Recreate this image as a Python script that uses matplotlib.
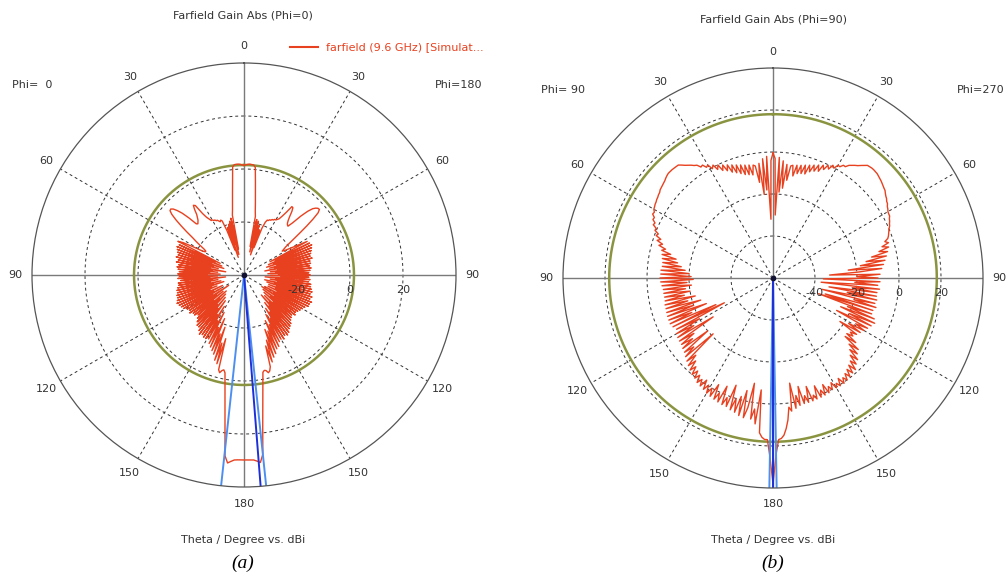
import numpy as np
import matplotlib
matplotlib.use('Agg')
import matplotlib.pyplot as plt

# theta grid (deg), 1 degree steps, 0..180
theta = np.arange(0, 181)

# (a) Phi=0 cut, gain in dBi. left half = Phi 0, right half = Phi 180
gain_a_phi0 = [
    1.4, 1.5, 1.8, 1.9, 1.9, 1.8, 1.0, -4.4, -8.8, -12.3,
    -15, -17, -30, -18, -32, -19, -28, -20, -33, -21,
    -30, -22, -18, -17.5, -18, -17.5, -17, -17, -16.5, -16.5,
    -16, -16, -15, -14, -12, -8, -7.5, -9, -11, -12,
    -13, -13.5, -14, -13.6, -10, -7, -5, -3.5, -2.8, -3,
    -4.5, -7, -10, -13, -16, -18, -20, -22, -23, -23,
    -22, -18, -14, -12, -30, -13, -28, -12.5, -31, -13,
    -27, -13.5, -32, -14, -28, -13.5, -30, -14.5, -27, -14,
    -33, -15, -28, -14.5, -30, -15, -27, -15.5, -31, -15,
    -26, -15.5, -30, -15, -27, -16, -33, -15, -28, -15,
    -30, -14.5, -27, -14, -31, -14, -28, -13.5, -32, -13.5,
    -27, -13, -29, -12.5, -26, -13, -31, -13.5, -27, -14,
    -30, -15, -26, -15.5, -33, -15, -27, -16, -30, -16,
    -25, -17, -31, -16, -27, -15, -30, -14, -25, -14,
    -29, -13, -24, -12, -28, -12.5, -22, -12, -26, -12,
    -20, -12.4, -24, -11, -18, -10, -22, -9, -16, -8,
    -19, -6, -13, -5, -15, -3, -2, -3, -3.4, -2.4,
    1.3, 5.8, 11.5, 18.8, 28.6, 31.2, 30.5, 29.9, 29.8, 29.8, 29.8]
gain_a_phi180 = [
    1.4, 1.6, 1.8, 1.9, 1.8, 1.7, 0.8, -4.6, -9, -12.5,
    -15.5, -17.5, -29, -18.5, -31, -19, -29, -20.5, -32, -22,
    -29, -21, -18.5, -17.5, -17.5, -17, -17, -16.5, -16.5, -16,
    -16, -15.5, -15, -13.5, -11.5, -8.5, -8.6, -10, -12, -13.5,
    -14.5, -15, -15.2, -13, -9, -6, -4, -3, -2.4, -2.3,
    -3.5, -6.5, -10, -13.5, -16.5, -19, -21, -22, -23, -22,
    -20, -17, -13, -29, -12.5, -27, -12, -30, -12.5, -28,
    -13, -31, -13.5, -27, -14, -30, -13.5, -28, -14.5, -32,
    -14.5, -27, -15, -30, -14.5, -28, -15, -31, -15.5, -27,
    -15, -30, -15.5, -26, -15, -32, -15.5, -28, -14.5, -30,
    -14.5, -27, -14, -32, -13.5, -28, -14, -31, -13, -27,
    -13.5, -30, -12.5, -27, -13, -30, -13, -26, -14, -31,
    -14.5, -27, -15, -32, -15.5, -26, -16, -31, -15.5, -27,
    -16.5, -30, -16, -25, -15.5, -29, -14.5, -26, -14, -30,
    -13.5, -25, -12.5, -27, -12, -23, -12.5, -25, -11.5, -21,
    -12, -23, -11.5, -19, -10, -21, -9.5, -17, -8, -18,
    -7, -14, -5.5, -12, -4, -2.5, -2, -3, -3.2, -2.6,
    1.0, 5.5, 11, 18, 28, 31.0, 30.4, 29.9, 29.8, 29.8, 29.8]

# (b) Phi=90 cut. left half = Phi 90, right half = Phi 270
gain_b_phi90 = [
    -0.5, -4, -32, -2, -18, -3, -20, -5, -14, -6,
    -5.4, -10, -5, -9.5, -4.6, -9, -4, -8, -3.4, -7,
    -2.7, -6, -1.9, -4.5, -1.1, -3.5, -0.1, -2, 0.9, -0.5,
    2.1, 1.5, 3.4, 3, 4.8, 5.4, 6.4, 7.2, 8.1, 9.2,
    10.2, 10.3, 10.4, 10.5, 10.5, 10.5, 10.2, 9.8, 9.3, 9,
    8.7, 8.5, 8.2, 7.6, 7.4, 7, 6.8, 6.4, 6.2, 5.8,
    5.5, 4.6, 4.9, 3.4, 3.6, 2.0, 2.4, 0.4, 0.6, -1.5,
    -0.8, -3.5, -2, -5, -3.5, -7, -5.4, -10, -6, -13,
    -6.5, -14, -7, -16, -7, -18, -6.5, -20, -6.5, -21,
    -6.2, -22, -6.5, -19, -7, -21, -7.5, -18, -7.5, -20,
    -7.6, -17, -7.5, -22, -7, -18, -7, -24, -6.8, -20,
    -6.6, -26, -6.5, -18, -6.4, -30, -7, -34, -8, -20,
    -7, -16, -6.5, -26, -6.3, -14, -6.2, -12, -5.5, -20,
    -5, -10, -4, -21, -3, -8, -2, -6, -1, -4,
    0, -3, 0.5, -2, 1.5, -1, 2, -2, 2.5, -0.5,
    3.3, 0, 3.8, -3, 4.2, 0.5, 4.6, -4, 5, 1,
    5.1, -6, 6, 0, 6.5, -1.6, 7.5, -5, 8, 3,
    -9.1, 8, 3, 10, -6.4, 14, 16, 17, 17, 25, 38]
gain_b_phi270 = [
    -0.5, -3, -30, -2.5, -19, -4, -17, -5.5, -13, -6,
    -5.5, -10.5, -5.1, -9, -4.7, -8.5, -4.1, -8.2, -3.5, -6.5,
    -2.8, -5.5, -2, -4.8, -1.2, -3, -0.2, -1.8, 0.8, -0.2,
    2, 1.8, 3.3, 3.2, 4.7, 5.5, 6.3, 7.0, 8, 9,
    10, 10.2, 10.4, 10.4, 10.3, 10.2, 9.8, 9.5, 9.2, 8.8,
    8.4, 8.0, 7.7, 7.0, 6.4, 6.0, 5.3, 5.0, 4.2, 3.8,
    3.2, 3.0, 2.9, 2.2, 1.8, 1.2, 0.8, 0, -0.5, -1,
    -1.5, -2.2, -4, -2.5, -6, -3, -8, -4, -12, -5,
    -15, -6, -18, -7, -24, -8, -19, -33, -9, -20,
    -10, -36, -9, -21, -10, -37, -9, -22, -10, -33,
    -10, -24, -9.5, -36, -10, -20, -9, -34, -10, -37,
    -10, -22, -8, -25, -7, -20, -8, -26, -9, -15,
    -10, -18, -11, -22, -12, -15, -13, -16, -10, -15.8,
    -7, -12, -6, -10, -4, -8, -3, -6, -1.3, -5,
    -1, -4, -0.5, -3, 0, -2, 0.5, -3, 0.5, -1.5,
    0.4, -3, 0.2, -2, 0.8, -4, 1, -2, 1.2, -5,
    1.3, -1, 1.5, -6, 1.6, -2, 1.6, -7, 2, -3,
    3, -9.3, 4, 2, 8, 12, 15, 16.5, 17, 24, 38]

# beam-direction / 3 dB lines (theta deg, side +1 = left half, -1 = right half)
blue_a = [(173.8, 1, '#4d8ff0'), (174.0, -1, '#4d8ff0'), (175.5, -1, '#1c2fd8')]
blue_b = [(179.0, 1, '#4d8ff0'), (179.0, -1, '#4d8ff0'), (180.0, 1, '#1c2fd8')]

RED = '#e8411f'
GREEN = '#8a9440'
GRAY = '#7a7a7a'
TXT = '#333333'


def polar_panel(ax, g_left, g_right, rmin, rmax, rings, ring_labels, green_r, blues):
    ax.set_theta_zero_location('N')
    ax.set_theta_direction(1)
    ax.set_ylim(rmin, rmax)
    ax.grid(False)
    ax.set_xticks([])
    ax.set_yticks([])
    ax.spines['polar'].set_color('#555555')
    ax.spines['polar'].set_linewidth(0.9)
    full = np.linspace(0, 2 * np.pi, 400)
    for r in rings:
        ax.plot(full, np.full_like(full, r), ls=(0, (3, 3)), color='#333333', lw=0.7)
    for a in [30, 60, 120, 150, 210, 240, 300, 330]:
        ax.plot([np.deg2rad(a)] * 2, [rmin, rmax], ls=(0, (3, 3)), color='#333333', lw=0.7)
    for a in [0, 90, 180, 270]:
        ax.plot([np.deg2rad(a)] * 2, [rmin, rmax], color=GRAY, lw=1.0)
    ax.plot(full, np.full_like(full, green_r), color=GREEN, lw=1.8)
    # curve: left half theta 0->180, then right half back 180->0
    th = np.concatenate([np.deg2rad(theta), np.deg2rad(360 - theta[::-1])])
    rr = np.concatenate([np.array(g_left), np.array(g_right)[::-1]])
    ax.plot(th, rr, color=RED, lw=1.0)
    for t, side, c in blues:
        a = np.deg2rad(t if side > 0 else 360 - t)
        ax.plot([a, a], [rmin, rmax], color=c, lw=1.4)
    ax.plot([0], [rmin], 'o', color='#111133', ms=3)
    for r, lab in zip(rings, ring_labels):
        ax.annotate(lab, xy=(np.deg2rad(270), r), xytext=(0, -11), textcoords='offset points',
                    ha='center', va='center', fontsize=8, color=TXT)
    labs = {0: '0', 30: '30', 60: '60', 90: '90', 120: '120', 150: '150', 180: '180',
            210: '150', 240: '120', 270: '90', 300: '60', 330: '30'}
    rt = rmax + (rmax - rmin) * 0.078
    for a, lab in labs.items():
        ax.text(np.deg2rad(a), rt, lab, ha='center', va='center', fontsize=8,
                color=TXT, clip_on=False)


fig = plt.figure(figsize=(10.06, 5.78), dpi=100)
fig.patch.set_facecolor('white')

ax1 = fig.add_axes([32 / 1006, 1 - 487 / 578, 424 / 1006, 424 / 578], projection='polar')
polar_panel(ax1, gain_a_phi0, gain_a_phi180, -40, 40, [-20, 0, 20], ['-20', '0', '20'], 1.5, blue_a)

ax2 = fig.add_axes([563 / 1006, 1 - 488 / 578, 420 / 1006, 420 / 578], projection='polar')
polar_panel(ax2, gain_b_phi90, gain_b_phi270, -60, 40, [-40, -20, 0, 20], ['-40', '-20', '0', '20'], 18, blue_b)

fs = 8
fig.text(243 / 1006, 1 - 15 / 578, 'Farfield Gain Abs (Phi=0)', ha='center', va='center', fontsize=fs, color=TXT)
fig.text(773 / 1006, 1 - 20 / 578, 'Farfield Gain Abs (Phi=90)', ha='center', va='center', fontsize=fs, color=TXT)
fig.text(12 / 1006, 1 - 85 / 578, 'Phi=  0', ha='left', va='center', fontsize=fs, color=TXT)
fig.text(482 / 1006, 1 - 85 / 578, 'Phi=180', ha='right', va='center', fontsize=fs, color=TXT)
fig.text(541 / 1006, 1 - 90 / 578, 'Phi= 90', ha='left', va='center', fontsize=fs, color=TXT)
fig.text(1004 / 1006, 1 - 90 / 578, 'Phi=270', ha='right', va='center', fontsize=fs, color=TXT)
fig.text(243 / 1006, 1 - 540 / 578, 'Theta / Degree vs. dBi', ha='center', va='center', fontsize=fs, color=TXT)
fig.text(773 / 1006, 1 - 540 / 578, 'Theta / Degree vs. dBi', ha='center', va='center', fontsize=fs, color=TXT)
fig.text(243 / 1006, 1 - 563 / 578, '(a)', ha='center', va='center', fontsize=14, style='italic', family='Liberation Serif')
fig.text(773 / 1006, 1 - 563 / 578, '(b)', ha='center', va='center', fontsize=14, style='italic', family='Liberation Serif')
# legend entry
fig.lines.append(plt.Line2D([290 / 1006, 318 / 1006], [1 - 47 / 578] * 2, color=RED, lw=1.5, transform=fig.transFigure))
fig.text(326 / 1006, 1 - 47 / 578, 'farfield (9.6 GHz) [Simulat...', ha='left', va='center', fontsize=fs, color=RED)

fig.savefig('out.png', dpi=100)
